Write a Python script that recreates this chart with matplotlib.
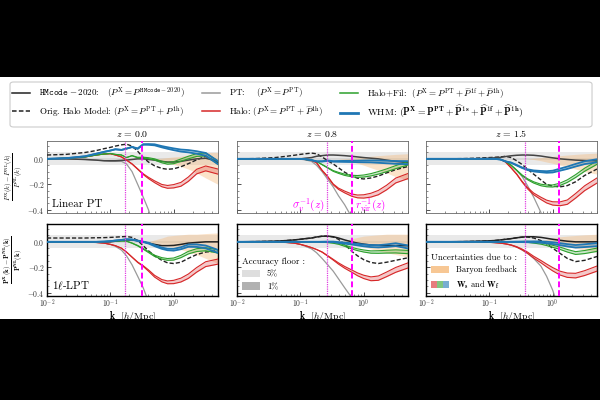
import numpy as np
import matplotlib
matplotlib.use("Agg")
import matplotlib.pyplot as plt
from matplotlib.patches import Patch, Rectangle, FancyBboxPatch
from matplotlib.lines import Line2D
from matplotlib.legend_handler import HandlerTuple
from matplotlib.ticker import MultipleLocator, LogLocator, NullFormatter

plt.rcParams['font.family'] = ['cmr10', 'DejaVu Serif']
plt.rcParams['mathtext.fontset'] = 'cm'
plt.rcParams['axes.formatter.use_mathtext'] = True

# ---------------- data ----------------
k = [0.01, 0.02, 0.04, 0.06, 0.08, 0.1, 0.12, 0.15, 0.18, 0.22, 0.27, 0.33,
     0.4, 0.5, 0.65, 0.8, 1.0, 1.3, 1.7, 2.3, 3.2, 5.0]
redshifts = ["0.0", "0.8", "1.5"]
sigv_inv = [0.17, 0.265, 0.36]
rvir_inv = [0.315, 0.65, 1.27]

# half-widths of the W_s / W_f uncertainty bands
sp_red = [0, 0, 0, 0, 0, 0, 0, 0, 0, 0.001, 0.002, 0.003, 0.005, 0.007, 0.009, 0.011, 0.013, 0.015, 0.017, 0.018, 0.019, 0.02]
sp_green = [0, 0, 0, 0, 0, 0, 0, 0, 0, 0.001, 0.002, 0.003, 0.004, 0.005, 0.006, 0.007, 0.008, 0.009, 0.01, 0.011, 0.012, 0.013]
sp_blue = [0, 0, 0, 0, 0, 0, 0, 0, 0, 0.001, 0.002, 0.002, 0.003, 0.004, 0.005, 0.006, 0.007, 0.008, 0.009, 0.01, 0.011, 0.012]

# ---- top row: Linear PT ----
hm_t0 = [0, 0, -0.005, -0.01, -0.015, -0.015, -0.015, -0.012, -0.01, -0.005, 0.0, 0.0, -0.005, -0.01, -0.02, -0.025, -0.025, -0.02, -0.01, 0.0, 0.005, -0.02]
orig_t0 = [0.03, 0.035, 0.05, 0.065, 0.08, 0.09, 0.1, 0.11, 0.115, 0.1, 0.06, 0.01, -0.025, -0.055, -0.075, -0.082, -0.078, -0.062, -0.038, -0.008, 0.02, -0.03]
pt_t0 = [0, 0, -0.005, -0.01, -0.015, -0.02, -0.02, -0.02, -0.04, -0.1, -0.2, -0.3, -0.4, -0.55, -0.8, -1.0, -1.2, -1.4, -1.6, -1.8, -2.0, -2.2]
red_t0 = [0, 0.005, 0.015, 0.03, 0.038, 0.04, 0.03, 0.015, -0.01, -0.04, -0.08, -0.12, -0.15, -0.18, -0.21, -0.22, -0.215, -0.2, -0.16, -0.1, -0.075, -0.1]
green_t0 = [0, 0.005, 0.015, 0.03, 0.038, 0.042, 0.035, 0.03, 0.01, 0.025, 0.01, 0.01, 0.005, -0.005, -0.025, -0.035, -0.03, -0.01, 0.01, 0.03, 0.035, -0.03]
blue_t0 = [0, 0.005, 0.02, 0.04, 0.055, 0.065, 0.075, 0.07, 0.08, 0.093, 0.08, 0.113, 0.113, 0.11, 0.095, 0.085, 0.075, 0.065, 0.06, 0.05, 0.035, -0.03]
bar_lo_t0 = [0, 0, 0, 0, 0, 0, 0, 0, 0, 0, 0, 0, 0, -0.005, -0.015, -0.03, -0.045, -0.06, -0.08, -0.11, -0.15, -0.2]
bar_hi_t0 = [0, 0, 0, 0, 0, 0, 0, 0, 0, 0, 0, 0, 0, 0.0, 0.005, 0.01, 0.015, 0.02, 0.03, 0.04, 0.05, 0.05]

hm_t8 = [0, 0, 0, 0, 0, 0, 0.005, 0.01, 0.02, 0.025, 0.03, 0.03, 0.028, 0.025, 0.02, 0.015, 0.01, 0.005, 0.0, -0.01, -0.02, -0.03]
orig_t8 = [0, 0.002, 0.01, 0.02, 0.028, 0.035, 0.04, 0.045, 0.04, 0.015, -0.015, -0.04, -0.07, -0.105, -0.135, -0.152, -0.158, -0.15, -0.135, -0.11, -0.085, -0.06]
pt_t8 = [0, 0, 0, 0, 0, -0.003, -0.008, -0.02, -0.05, -0.1, -0.16, -0.22, -0.29, -0.36, -0.46, -0.6, -0.8, -1.0, -1.2, -1.4, -1.6, -1.8]
red_t8 = [0, 0, 0, 0, 0, -0.002, -0.005, -0.012, -0.03, -0.09, -0.14, -0.2, -0.235, -0.26, -0.285, -0.295, -0.295, -0.285, -0.265, -0.225, -0.17, -0.135]
green_t8 = [0, 0, 0, 0, 0, -0.002, -0.005, -0.01, -0.02, -0.045, -0.07, -0.095, -0.11, -0.125, -0.135, -0.138, -0.135, -0.125, -0.11, -0.09, -0.065, -0.035]
blue_t8 = [0, 0, 0, 0, 0, 0, -0.003, -0.01, -0.02, -0.02, -0.015, -0.02, -0.02, -0.02, -0.02, -0.02, -0.02, -0.02, -0.022, -0.025, -0.028, -0.03]
bar_lo_t8 = [0, 0, 0, 0, 0, 0, 0, 0, 0, 0, 0, 0, 0, -0.01, -0.02, -0.035, -0.05, -0.07, -0.09, -0.11, -0.14, -0.165]
bar_hi_t8 = [0, 0, 0, 0, 0, 0, 0, 0, 0, 0, 0, 0, 0, 0.0, 0.005, 0.01, 0.015, 0.02, 0.025, 0.03, 0.035, 0.04]

hm_t15 = [0, 0, 0, 0, 0.002, 0.005, 0.008, 0.012, 0.018, 0.024, 0.028, 0.03, 0.03, 0.028, 0.022, 0.015, 0.008, 0.0, -0.005, -0.01, -0.013, -0.016]
orig_t15 = [0, 0, 0.002, 0.005, 0.008, 0.01, 0.012, 0.015, 0.02, 0.01, -0.015, -0.045, -0.08, -0.12, -0.165, -0.2, -0.215, -0.22, -0.21, -0.18, -0.13, -0.08]
pt_t15 = [0, 0, 0, 0, 0, 0, 0, -0.005, -0.02, -0.05, -0.09, -0.14, -0.21, -0.3, -0.42, -0.55, -0.75, -1.0, -1.2, -1.4, -1.6, -1.8]
red_t15 = [0, 0, 0, 0, 0, 0, 0, -0.005, -0.025, -0.07, -0.12, -0.18, -0.23, -0.275, -0.31, -0.335, -0.35, -0.353, -0.34, -0.29, -0.23, -0.17]
green_t15 = [0, 0, 0, 0, 0, 0, 0, -0.005, -0.02, -0.05, -0.09, -0.13, -0.16, -0.185, -0.205, -0.212, -0.213, -0.2, -0.175, -0.135, -0.085, -0.03]
blue_t15 = [0, 0, 0, 0, 0, 0, 0, -0.005, -0.02, -0.03, -0.05, -0.07, -0.085, -0.095, -0.1, -0.103, -0.1, -0.085, -0.07, -0.05, -0.03, -0.015]
bar_lo_t15 = [0, 0, 0, 0, 0, 0, 0, 0, 0, 0, 0, 0, 0, -0.005, -0.015, -0.025, -0.035, -0.05, -0.065, -0.08, -0.1, -0.12]
bar_hi_t15 = [0, 0, 0, 0, 0, 0, 0, 0, 0, 0, 0, 0, 0, 0.005, 0.01, 0.015, 0.02, 0.025, 0.03, 0.035, 0.04, 0.045]

# ---- bottom row: 1-loop LPT ----
hm_b0 = [0, 0, 0, 0, 0, 0, 0.005, 0.01, 0.015, 0.015, 0.01, 0.0, -0.01, -0.02, -0.03, -0.03, -0.028, -0.02, -0.01, -0.005, 0.0, 0.0]
orig_b0 = [0.03, 0.03, 0.03, 0.032, 0.033, 0.035, 0.037, 0.04, 0.042, 0.035, 0.01, -0.03, -0.07, -0.11, -0.145, -0.165, -0.17, -0.16, -0.13, -0.1, -0.08, -0.07]
pt_b0 = [0, 0, -0.002, -0.005, -0.01, -0.02, -0.035, -0.065, -0.11, -0.18, -0.27, -0.36, -0.47, -0.62, -0.85, -1.0, -1.2, -1.4, -1.6, -1.8, -2.0, -2.2]
red_b0 = [0, 0, -0.002, -0.005, -0.01, -0.02, -0.03, -0.05, -0.08, -0.12, -0.16, -0.19, -0.225, -0.27, -0.305, -0.318, -0.315, -0.3, -0.27, -0.22, -0.175, -0.155]
green_b0 = [0, 0, 0, 0, 0.002, 0.004, 0.006, 0.008, 0.005, -0.01, -0.03, -0.055, -0.08, -0.11, -0.13, -0.138, -0.135, -0.115, -0.085, -0.065, -0.058, -0.075]
blue_b0 = [0, 0, 0, 0, 0.002, 0.005, 0.01, 0.015, 0.02, 0.018, 0.008, 0.0, -0.01, -0.03, -0.05, -0.06, -0.062, -0.05, -0.03, -0.03, -0.04, -0.075]
bar_lo_b0 = [0, 0, 0, 0, 0, 0, 0, 0, 0, 0, 0, 0, 0.0, -0.01, -0.02, -0.03, -0.045, -0.06, -0.08, -0.1, -0.13, -0.17]
bar_hi_b0 = [0, 0, 0, 0, 0, 0, 0, 0, 0, 0, 0, 0, 0.0, 0.015, 0.03, 0.045, 0.05, 0.055, 0.06, 0.06, 0.065, 0.07]

hm_b8 = [0, 0.002, 0.005, 0.01, 0.015, 0.02, 0.025, 0.03, 0.038, 0.044, 0.045, 0.04, 0.03, 0.015, 0.0, -0.01, -0.018, -0.025, -0.028, -0.03, -0.03, -0.03]
orig_b8 = [0, 0.002, 0.005, 0.01, 0.015, 0.02, 0.025, 0.03, 0.038, 0.044, 0.045, 0.038, 0.02, -0.02, -0.075, -0.11, -0.14, -0.162, -0.17, -0.16, -0.145, -0.125]
pt_b8 = [0, 0, -0.002, -0.005, -0.01, -0.02, -0.035, -0.055, -0.085, -0.13, -0.18, -0.23, -0.29, -0.36, -0.44, -0.55, -0.7, -0.9, -1.0, -1.2, -1.4, -1.6]
red_b8 = [0, 0, -0.002, -0.005, -0.01, -0.02, -0.03, -0.045, -0.06, -0.08, -0.11, -0.14, -0.17, -0.2, -0.23, -0.255, -0.275, -0.29, -0.285, -0.255, -0.22, -0.185]
green_b8 = [0, 0, 0, 0, 0, 0, 0, 0, 0, -0.002, -0.004, -0.008, -0.015, -0.03, -0.05, -0.062, -0.072, -0.08, -0.08, -0.077, -0.075, -0.08]
blue_b8 = [0, 0, 0, 0, 0, 0, 0, 0, 0, 0, 0, 0, -0.005, -0.01, -0.016, -0.022, -0.028, -0.033, -0.035, -0.03, -0.022, -0.04]
bar_lo_b8 = [0, 0, 0, 0, 0, 0, 0, 0, 0, 0, 0, 0, 0.0, -0.005, -0.015, -0.025, -0.04, -0.055, -0.07, -0.085, -0.1, -0.12]
bar_hi_b8 = [0, 0, 0, 0, 0, 0, 0, 0, 0, 0, 0, 0, 0.0, 0.01, 0.025, 0.035, 0.045, 0.05, 0.055, 0.06, 0.06, 0.06]

hm_b15 = [0, 0, 0.002, 0.004, 0.006, 0.008, 0.01, 0.015, 0.02, 0.025, 0.032, 0.037, 0.04, 0.04, 0.035, 0.028, 0.02, 0.012, 0.005, 0.0, 0.0, 0.0]
orig_b15 = [0, 0, 0.002, 0.004, 0.006, 0.008, 0.01, 0.015, 0.02, 0.025, 0.032, 0.037, 0.038, 0.03, 0.01, -0.015, -0.05, -0.09, -0.13, -0.155, -0.145, -0.115]
pt_b15 = [0, 0, 0, 0, -0.002, -0.004, -0.006, -0.01, -0.015, -0.025, -0.04, -0.065, -0.09, -0.13, -0.19, -0.27, -0.38, -0.55, -0.8, -1.0, -1.2, -1.4]
red_b15 = [0, 0, 0, 0, -0.002, -0.004, -0.006, -0.01, -0.016, -0.025, -0.04, -0.06, -0.085, -0.12, -0.155, -0.185, -0.215, -0.245, -0.262, -0.265, -0.245, -0.21]
green_b15 = [0, 0, 0, 0, 0, 0, 0, 0, 0, 0, 0, 0, 0, -0.005, -0.012, -0.022, -0.035, -0.05, -0.07, -0.088, -0.08, -0.062]
blue_b15 = [0, 0, 0, 0, 0, 0, 0, 0, 0, 0, 0, 0, 0, 0, -0.002, -0.005, -0.01, -0.018, -0.027, -0.035, -0.03, -0.022]
bar_lo_b15 = [0, 0, 0, 0, 0, 0, 0, 0, 0, 0, 0, 0, 0, 0.0, -0.005, -0.01, -0.02, -0.03, -0.04, -0.05, -0.065, -0.08]
bar_hi_b15 = [0, 0, 0, 0, 0, 0, 0, 0, 0, 0, 0, 0, 0, 0.0, 0.01, 0.02, 0.03, 0.04, 0.045, 0.05, 0.055, 0.06]

top_row = [
    (hm_t0, orig_t0, pt_t0, red_t0, green_t0, blue_t0, bar_lo_t0, bar_hi_t0),
    (hm_t8, orig_t8, pt_t8, red_t8, green_t8, blue_t8, bar_lo_t8, bar_hi_t8),
    (hm_t15, orig_t15, pt_t15, red_t15, green_t15, blue_t15, bar_lo_t15, bar_hi_t15),
]
bot_row = [
    (hm_b0, orig_b0, pt_b0, red_b0, green_b0, blue_b0, bar_lo_b0, bar_hi_b0),
    (hm_b8, orig_b8, pt_b8, red_b8, green_b8, blue_b8, bar_lo_b8, bar_hi_b8),
    (hm_b15, orig_b15, pt_b15, red_b15, green_b15, blue_b15, bar_lo_b15, bar_hi_b15),
]

# ---------------- style ----------------
C_HM = '#222222'
C_PT = '#9a9a9a'
C_RED = '#d62728'
C_GREEN = '#2ca02c'
C_BLUE = '#1f77b4'
C_BAR = '#f5b97a'
C_MAG = '#ff00ff'

fig = plt.figure(figsize=(6, 4), dpi=100, facecolor='black')
fig.patches.append(Rectangle((0, 0.2025), 1, 0.605, transform=fig.transFigure,
                             facecolor='white', edgecolor='none', zorder=-10))
# legend frame spanning the full width
fig.patches.append(FancyBboxPatch((0.0167, 0.6825), 0.97, 0.1125,
                                  boxstyle="round,pad=0,rounding_size=0.006",
                                  transform=fig.transFigure, facecolor='white',
                                  edgecolor='#cccccc', lw=0.8, zorder=-5))

lefts = [0.0783, 0.395, 0.71]
width = 0.285
height = 0.18
bottoms = [0.4675, 0.26]

kk = np.array(k)
spr = np.array(sp_red)
spg = np.array(sp_green)
spb = np.array(sp_blue)


def band(ax, center, sp, col, lw):
    c = np.array(center)
    ax.fill_between(kk, c - sp, c + sp, color=col, alpha=0.25, lw=0, zorder=4)
    ax.plot(kk, c - sp, color=col, lw=lw, zorder=5)
    ax.plot(kk, c + sp, color=col, lw=lw, zorder=5)


axes = []
for r, row in enumerate([top_row, bot_row]):
    for j, dat in enumerate(row):
        hm, orig, pt, red, green, blue, blo, bhi = dat
        ax = fig.add_axes([lefts[j], bottoms[r], width, height])
        axes.append(ax)
        ax.set_xscale('log')
        ax.set_xlim(0.01, 5.0)
        ax.set_ylim(-0.425, 0.14)
        # accuracy floors
        ax.axhspan(-0.05, 0.05, color='#d0d0d0', alpha=0.45, lw=0, zorder=0)
        ax.axhspan(-0.01, 0.01, color='#909090', alpha=0.2, lw=0, zorder=0)
        # baryon feedback band
        ax.fill_between(kk, blo, bhi, color=C_BAR, alpha=0.4, lw=0, zorder=1)
        ax.plot(kk, pt, color=C_PT, lw=0.9, zorder=2)
        ax.plot(kk, orig, color=C_HM, lw=1.0, ls=(0, (3, 1.5)), zorder=3)
        ax.plot(kk, hm, color=C_HM if r == 1 else '#444444', lw=1.1, zorder=3)
        band(ax, red, spr, C_RED, 0.8)
        band(ax, green, spg, C_GREEN, 0.8)
        band(ax, blue, spb, C_BLUE, 1.3)
        ax.axvline(sigv_inv[j], color='#e040e0', lw=0.9, ls=(0, (1, 0.8)), zorder=6)
        ax.axvline(rvir_inv[j], color=C_MAG, lw=1.4, ls=(0, (3, 1.5)), zorder=6)

        ax.yaxis.set_major_locator(MultipleLocator(0.2))
        ax.yaxis.set_minor_locator(MultipleLocator(0.05))
        ax.xaxis.set_major_locator(LogLocator(base=10))
        ax.xaxis.set_minor_locator(LogLocator(base=10, subs=np.arange(2, 10)))
        ax.xaxis.set_minor_formatter(NullFormatter())
        ax.tick_params(which='both', direction='in', labelsize=5.5, colors='#333333', pad=1.5)
        ax.tick_params(axis='x', pad=1.0)
        ax.tick_params(which='major', length=3, width=0.6)
        ax.tick_params(which='minor', length=1.5, width=0.4)
        for s in ax.spines.values():
            s.set_linewidth(0.6 if r == 0 else 1.0)
            s.set_color('#666666' if r == 0 else 'black')
        if j > 0:
            ax.set_yticklabels([])
        if r == 0:
            ax.set_xticklabels([])
            ax.set_title(r"$z\,=\,%s$" % redshifts[j], fontsize=7, pad=3)
        else:
            ax.set_xlabel(r"$\mathbf{k}$  $[h/\mathrm{Mpc}]$", fontsize=7, labelpad=-0.5)

ax_t0, ax_t8, ax_t15, ax_b0, ax_b8, ax_b15 = axes

ax_t0.set_ylabel(r"$\frac{P^{\rm X}(k)-P^{\rm NL}(k)}{P^{\rm NL}(k)}$", fontsize=7)
ax_b0.set_ylabel(r"$\mathbf{\frac{P^{X}(k)-P^{NL}(k)}{P^{NL}(k)}}$", fontsize=7)
ax_t0.yaxis.set_label_coords(-0.12, 0.5)
ax_b0.yaxis.set_label_coords(-0.12, 0.5)

ax_t0.text(0.03, 0.05, "Linear PT", transform=ax_t0.transAxes, fontsize=8, va='bottom', zorder=10)
ax_b0.text(0.03, 0.05, r"$\mathbf{1}\ell$-LPT", transform=ax_b0.transAxes,
           fontsize=8, va='bottom', fontweight='bold', zorder=10)

ax_t8.text(0.245, -0.36, r"$\sigma_v^{-1}(z)$", color=C_MAG, fontsize=8, ha='right', va='center', zorder=10)
ax_t8.text(0.72, -0.36, r"$r_{\rm vir}^{-1}(z)$", color=C_MAG, fontsize=8, ha='left', va='center', zorder=10)

# accuracy floor legend
h5 = Patch(facecolor='#d0d0d0', alpha=0.7, edgecolor='none')
h1 = Patch(facecolor='#909090', alpha=0.7, edgecolor='none')
lg = ax_b8.legend([h5, h1], ["5%", "1%"], title="Accuracy floor :", loc='lower left',
                  fontsize=6, title_fontsize=6.5, frameon=False, handlelength=2.2,
                  handleheight=1.0, borderaxespad=0.2, alignment='left')
lg.set_zorder(20)

# uncertainties legend
hb = Patch(facecolor=C_BAR, alpha=0.8, edgecolor='none')
hr = Patch(facecolor=C_RED, alpha=0.6, edgecolor='none')
hg = Patch(facecolor=C_GREEN, alpha=0.6, edgecolor='none')
hbl = Patch(facecolor=C_BLUE, alpha=0.6, edgecolor='none')
lu = ax_b15.legend([hb, (hr, hg, hbl)], ["Baryon feedback", r"$\mathbf{W_s}$ and $\mathbf{W_f}$"],
                   title="Uncertainties due to :", loc='lower left', fontsize=6, title_fontsize=6.5,
                   frameon=False, handlelength=2.2, handleheight=1.0, borderaxespad=0.2,
                   alignment='left', handler_map={tuple: HandlerTuple(ndivide=None, pad=0)})
lu.set_zorder(20)
for t in lu.get_texts():
    t.set_fontweight('bold')

# main legend
handles = [
    Line2D([], [], color=C_HM, lw=1.1),
    Line2D([], [], color=C_HM, lw=1.1, ls=(0, (3, 1.5))),
    Line2D([], [], color=C_PT, lw=1.1),
    Line2D([], [], color=C_RED, lw=1.1),
    Line2D([], [], color=C_GREEN, lw=1.1),
    Line2D([], [], color=C_BLUE, lw=2.0),
]
labels = [
    r"$\mathtt{HMcode}-2020$:   $(P^{\rm X} = P^{\mathtt{HMcode-2020}})$",
    r"Orig. Halo Model: $(P^{\rm X} = P^{\rm PT} + P^{\rm 1h})$",
    r"PT:    $(P^{\rm X} = P^{\rm PT})$",
    r"Halo: $(P^{\rm X} = P^{\rm PT} + \widehat{P}^{\rm 1h})$",
    r"Halo+Fil:  $(P^{\rm X} = P^{\rm PT} + \widehat{P}^{\rm 1f} + \widehat{P}^{\rm 1h})$",
    r"WHM: $(\mathbf{P}^{\mathbf{X}} = \mathbf{P}^{\mathbf{PT}} + \widehat{\mathbf{P}}^{\mathbf{1s}} + \widehat{\mathbf{P}}^{\mathbf{1f}} + \widehat{\mathbf{P}}^{\mathbf{1h}})$",
]
leg = fig.legend(handles, labels, loc='upper left', bbox_to_anchor=(0.02, 0.785),
                 ncol=3, fontsize=6.5, frameon=False, handlelength=2.0, handletextpad=1.0,
                 borderaxespad=0, columnspacing=1.9, labelspacing=0.3, borderpad=0)
leg.get_texts()[5].set_fontweight('bold')
leg.get_texts()[5].set_fontsize(7)

fig.savefig("out.png", dpi=100, facecolor=fig.get_facecolor())
